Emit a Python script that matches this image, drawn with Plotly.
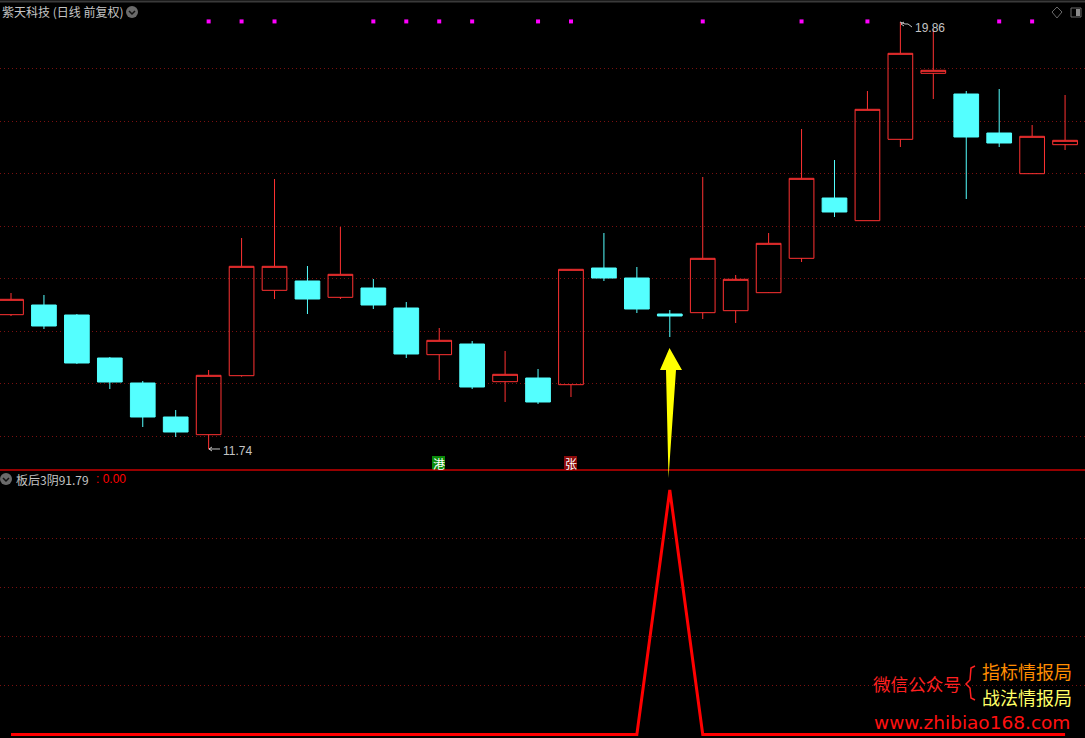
import plotly.graph_objects as go

W, H = 1085, 738
SPLIT = 470

# ---------- data ----------
candle_index = list(range(33))
opens = [14.298, 14.482, 14.292, 13.475, 13.000, 12.354, 12.018, 13.139, 14.761, 14.938, 14.628,
         14.805, 14.425, 13.538, 13.741, 13.025, 13.095, 12.968, 15.185, 14.995, 14.311, 14.336,
         14.374, 14.716, 15.369, 16.515, 16.084, 17.630, 18.884, 18.491, 17.750, 16.977, 17.528]
highs = [14.710, 14.672, 14.311, 13.494, 13.038, 12.487, 13.247, 15.755, 16.876, 15.223, 15.964,
         14.976, 14.539, 14.045, 13.798, 13.608, 13.266, 15.166, 15.850, 15.204, 14.387, 16.914,
         15.052, 15.850, 17.826, 17.237, 18.548, 19.860, 19.726, 18.548, 18.586, 17.902, 18.472]
lows = [14.273, 14.026, 13.361, 12.886, 12.164, 11.974, 11.740, 13.120, 14.596, 14.311, 14.596,
        14.406, 13.475, 13.057, 12.886, 12.639, 12.601, 12.734, 14.938, 14.330, 13.874, 14.216,
        14.140, 14.710, 15.299, 16.154, 16.084, 17.484, 18.396, 16.496, 17.484, 16.977, 17.427]
closes = [14.590, 14.083, 13.380, 13.019, 12.354, 12.069, 13.146, 15.217, 15.217, 14.596, 15.065,
          14.482, 13.551, 13.811, 12.924, 13.165, 12.639, 15.160, 14.995, 14.406, 14.273, 15.369,
          14.970, 15.654, 16.889, 16.249, 18.200, 19.264, 18.941, 17.674, 17.560, 17.687, 17.611]
signal_index = [6, 7, 8, 11, 12, 13, 14, 16, 17, 21, 24, 26, 30, 31]
signal_level = [19.87] * 14
indicator = [0] * 20 + [100] + [0] * 12
price_grid = [18.98, 17.97, 16.98, 15.98, 14.99, 13.98, 12.99, 11.99]
indicator_grid = [20, 40, 60, 80]

TITLE = "紫天科技 (日线 前复权)"
INDICATOR_NAME = "板后3阴91.79"
INDICATOR_VALUE = ": 0.00"
LOW_LABEL = "11.74"
HIGH_LABEL = "19.86"

# ---------- style ----------
RED = "#ff3232"
CYAN = "#54ffff"
GRID = "#7a1010"
GRAY = "#c4c4c4"
CJK = "Noto Sans CJK SC"
PX = lambda x: x / W
PY = lambda y: 1 - y / H

fig = go.Figure()
fig.add_trace(go.Candlestick(
    x=candle_index, open=opens, high=highs, low=lows, close=closes,
    increasing=dict(line=dict(color=RED, width=1), fillcolor="rgba(0,0,0,0)"),
    decreasing=dict(line=dict(color=CYAN, width=1), fillcolor=CYAN),
    whiskerwidth=0, xaxis="x", yaxis="y", showlegend=False, hoverinfo="skip"))
fig.add_trace(go.Scatter(
    x=signal_index, y=signal_level, mode="markers",
    marker=dict(symbol="square", size=4, color="#ff00ff", line=dict(width=0)),
    xaxis="x", yaxis="y", showlegend=False, hoverinfo="skip"))
fig.add_trace(go.Scatter(
    x=candle_index, y=indicator, mode="lines",
    line=dict(color="#ff0000", width=3, shape="linear"),
    xaxis="x2", yaxis="y2", showlegend=False, hoverinfo="skip"))

def text(x, y, s, color=GRAY, size=12, anchor="left", family=CJK, **kw):
    return dict(xref="paper", yref="paper", x=PX(x), y=PY(y), text=s, showarrow=False,
                xanchor=anchor, yanchor="middle", font=dict(color=color, size=size, family=family),
                borderpad=0, **kw)

def line(x0, y0, x1, y1, color, width=1):
    return dict(type="line", xref="paper", yref="paper", x0=PX(x0), y0=PY(y0), x1=PX(x1), y1=PY(y1),
                line=dict(color=color, width=width), layer="above")

def path(pts, color=None, fill=None, width=1, close=False):
    d = "M " + " L ".join(f"{PX(a):.5f},{PY(b):.5f}" for a, b in pts) + (" Z" if close else "")
    return dict(type="path", xref="paper", yref="paper", path=d, layer="above",
                fillcolor=fill if fill else "rgba(0,0,0,0)",
                line=dict(color=color if color else "rgba(0,0,0,0)", width=width))

def box(x0, y0, x1, y1, fill):
    return dict(type="rect", xref="paper", yref="paper", x0=PX(x0), x1=PX(x1), y0=PY(y0), y1=PY(y1),
                line=dict(width=0), fillcolor=fill, layer="above")

def chevron(cx, cy):
    return [
        dict(type="circle", xref="paper", yref="paper", x0=PX(cx - 6), x1=PX(cx + 6),
             y0=PY(cy - 6), y1=PY(cy + 6), fillcolor="#6a6a6a", line=dict(width=0), layer="above"),
        path([(cx - 3, cy - 1), (cx, cy + 2), (cx + 3, cy - 1)], color="#111111", width=1.5),
    ]

shapes = [
    line(0, 1.5, W, 1.5, "#3a3a3a", 2),
    box(432, 456, 445, 470, "#0a8a0a"),
    box(564, 456, 577, 469, "#8b0a0a"),
    line(0, SPLIT, W, SPLIT, "#c80000", 1.5),
    # arrow
    path([(669.5, 348), (682, 370), (676, 370), (668.5, 478), (666, 370), (660, 370)],
         fill="#ffff00", close=True),
    # low / high pointers
    path([(220, 449), (209, 449)], color=GRAY),
    path([(212, 447), (209, 449), (212, 451)], color=GRAY),
    path([(900, 22), (905, 24), (908, 24), (912, 27)], color=GRAY),
    path([(904, 22), (901, 24), (904, 26)], color=GRAY),
    # top right icons
    path([(1057, 7), (1062, 12), (1057, 18), (1052, 12)], color="#6a6a6a", close=True),
    dict(type="rect", xref="paper", yref="paper", x0=PX(1071), x1=PX(1081), y0=PY(8), y1=PY(17),
         line=dict(color="#6a6a6a", width=1), fillcolor="rgba(0,0,0,0)", layer="above"),
    box(1076, 9, 1080, 16, "#8a8a8a"),
    # brace
    path([(975, 666), (971, 668), (970, 680), (966, 684), (970, 688), (971, 698), (975, 700)],
         color="#ff2020", width=1.5),
]
shapes += chevron(132, 12) + chevron(6, 479)

annotations = [
    text(1, 12, TITLE, size=12),
    text(15, 479, INDICATOR_NAME, size=12),
    text(95, 479, INDICATOR_VALUE, color="#ff0000", size=12, family="Liberation Sans"),
    text(222, 451, LOW_LABEL, size=12, family="Liberation Sans"),
    text(914, 28, HIGH_LABEL, size=12, family="Liberation Sans"),
    text(438.5, 463, "港", color="#ffffff", size=12, anchor="center"),
    text(570.5, 463, "张", color="#ffffff", size=12, anchor="center"),
    text(872, 683.5, "微信公众号", color="#ff2020", size=17.6),
    text(981, 671, "指标情报局", color="#ff8c00", size=18),
    text(981, 697, "战法情报局", color="#ffff66", size=18),
    text(872.5, 722, "www.zhibiao168.com", color="#ff1010", size=18.5, family="DejaVu Sans"),
]

axis_hidden = dict(showline=False, zeroline=False, showticklabels=False, ticks="")
grid = dict(showgrid=True, gridcolor=GRID, gridwidth=1, griddash="1px,3px")

fig.update_layout(
    width=W, height=H, margin=dict(l=0, r=0, t=0, b=0),
    paper_bgcolor="#000000", plot_bgcolor="#000000",
    showlegend=False, boxgap=0.25, boxgroupgap=0,
    xaxis=dict(domain=[0, 1], range=[-0.334, 32.605], showgrid=False, rangeslider=dict(visible=False),
               anchor="y", **axis_hidden),
    yaxis=dict(domain=[1 - SPLIT / H, 1], range=[11.347, 20.277], tickmode="array", tickvals=price_grid,
               anchor="x", **grid, **axis_hidden),
    xaxis2=dict(domain=[0, 1], range=[-0.334, 32.605], showgrid=False, anchor="y2", **axis_hidden),
    yaxis2=dict(domain=[0, 1 - (SPLIT + 1) / H], range=[-1.43, 107.77], tickmode="array",
                tickvals=indicator_grid, anchor="x2", **grid, **axis_hidden),
    shapes=shapes, annotations=annotations,
)

fig.write_html("out.html", config=dict(displayModeBar=False),
               post_script="document.body.style.margin='0';document.body.style.overflow='hidden';document.body.style.background='#000';")
